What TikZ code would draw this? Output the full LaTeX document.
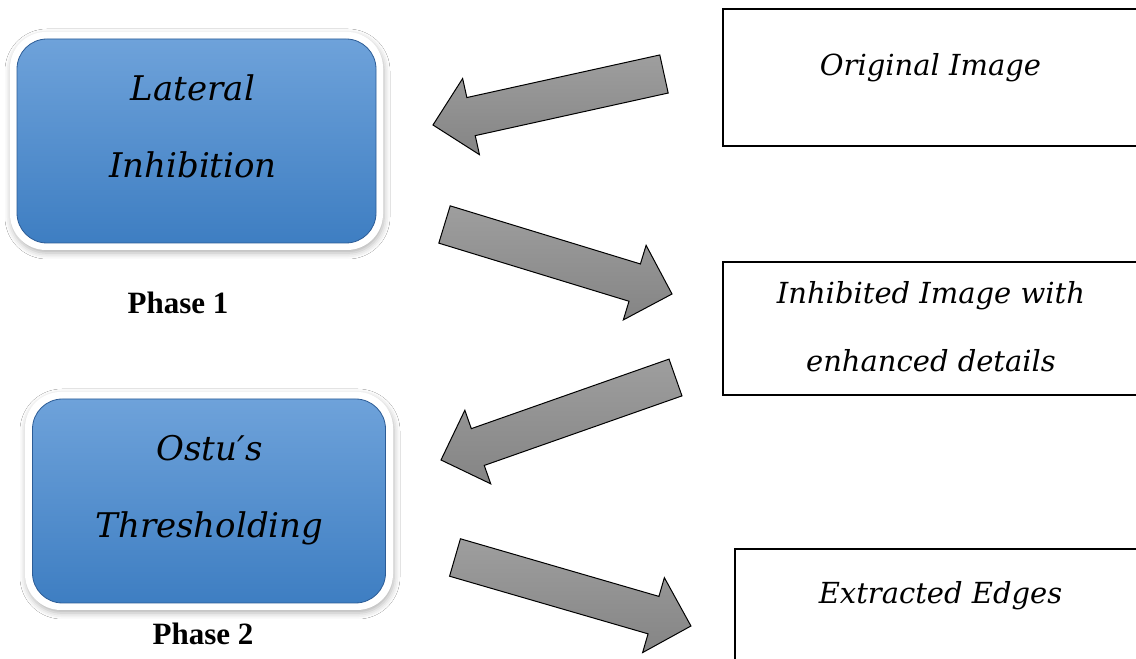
\documentclass[tikz,border=0pt]{standalone}
\usepackage{fontspec}
\setmainfont{Liberation Serif}
\newfontfamily\boxfont{DejaVu Serif}
\usetikzlibrary{shadows.blur}

\definecolor{bluetop}{RGB}{110,162,218}
\definecolor{bluebot}{RGB}{62,126,194}
\definecolor{blueedge}{RGB}{44,92,150}

\begin{document}
\begin{tikzpicture}[x=1pt,y=1pt,
 rim/.style={fill=white,rounded corners=36pt,minimum width=373,minimum height=218,
   blur shadow={shadow xshift=1pt,shadow yshift=-3pt,shadow blur radius=6pt,shadow opacity=30}},
 phasebox/.style={draw=blueedge,line width=.8pt,rounded corners=30pt,top color=bluetop,bottom color=bluebot,
   minimum width=359,minimum height=204},
 boxtext/.style={align=center,font={\boxfont\itshape\fontsize{34}{77}\selectfont}},
 outbox/.style={draw=black,line width=2.5pt,minimum width=440},
 outtext/.style={align=center,font={\boxfont\itshape\fontsize{29}{68}\selectfont}},
 phase/.style={anchor=base,font={\bfseries\fontsize{31}{36}\selectfont}},
 arrowbody/.style={draw=black,line width=1pt,top color=black!38,bottom color=black!48},
 fatarrow/.pic={\path[arrowbody] (0,-19.5) -- ({#1-39},-19.5) -- ({#1-39},-39) -- (#1,0)
   -- ({#1-39},39) -- ({#1-39},19.5) -- (0,19.5) -- cycle;}]
\clip (0,0) rectangle (1136,659);
\fill[white] (0,0) rectangle (1136,659);

% phase boxes
\node[rim] (latrim) at (196.5,518) {};
\node[phasebox] (lateral) at (latrim.center) {};
\node[boxtext] (lattxt) at (193,533) {Lateral\\Inhibition};
\node[phase] (phase1) at (178,345) {Phase 1};

\node[rim,minimum width=368] (otsurim) at (209,158) {};
\node[phasebox,minimum width=353] (otsu) at (otsurim.center) {};
\node[boxtext] (otsutxt) at (209.5,168.5) {Ostu′s\\Thresholding};
\node[phase] (phase2) at (203,14) {Phase 2};

% image boxes
\node[outbox,minimum height=137] (orig) at (943,581.5) {};
\node[outtext] (origtxt) at (930.5,591.5) {Original Image};
\node[outbox,minimum height=133] (inhib) at (943,330.5) {};
\node[outtext] (inhibtxt) at (931,332) {Inhibited Image with\\enhanced details};
\node[outbox,minimum height=130] (edges) at (955,45) {};
\node[outtext] (edgestxt) at (940.5,63) {Extracted Edges};

% flow arrows
\pic[rotate=192.45] (toLateral) at (664,585) {fatarrow=236.6};
\pic[rotate=-16.99] (toInhib) at (444.5,434.5) {fatarrow=237.9};
\pic[rotate=199.38] (toOtsu) at (675.5,281.5) {fatarrow=248.6};
\pic[rotate=-16.19] (toEdges) at (455,101.5) {fatarrow=245.7};
\end{tikzpicture}
\end{document}
